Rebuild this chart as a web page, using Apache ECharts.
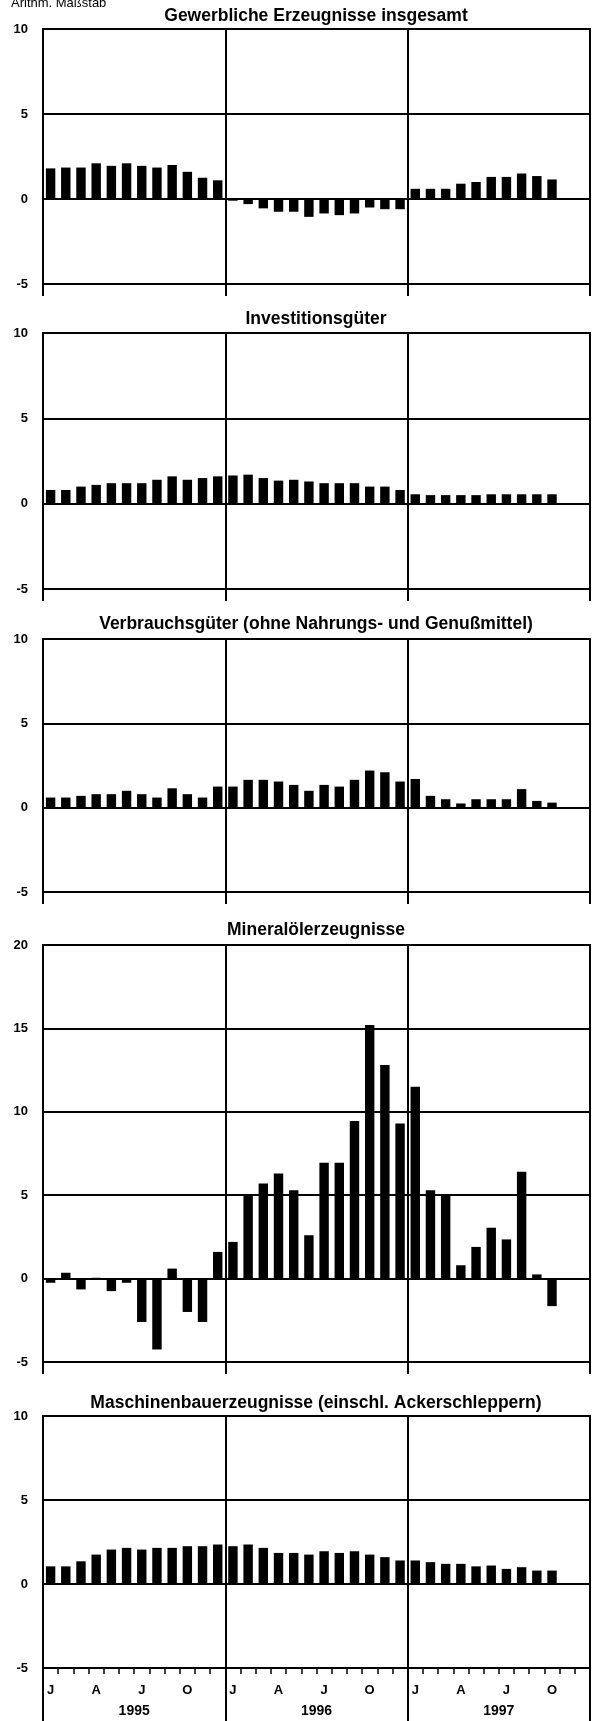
<!DOCTYPE html>
<html>
<head>
<meta charset="utf-8">
<title>Erzeugerpreise gewerblicher Produkte</title>
<script src="https://cdn.jsdelivr.net/npm/echarts@6/dist/echarts.min.js"></script>
<style>
  html, body { margin: 0; padding: 0; background: #fff; }
  #chart { width: 593px; height: 1721px; }
</style>
</head>
<body>
<div id="chart"></div>
<script>
// Monatsbuchstaben und Jahre der Zeitachse
const months = ['J', 'F', 'M', 'A', 'M', 'J', 'J', 'A', 'S', 'O', 'N', 'D'];
const years = ['1995', '1996', '1997'];

// Werte Jan 1995 - Okt 1997
const gesamt = [1.8, 1.85, 1.85, 2.1, 1.95, 2.1, 1.95, 1.85, 2.0, 1.6, 1.25, 1.1,
  -0.1, -0.3, -0.55, -0.75, -0.75, -1.05, -0.85, -0.95, -0.85, -0.5, -0.6, -0.6,
  0.6, 0.6, 0.6, 0.9, 1.0, 1.3, 1.3, 1.5, 1.35, 1.15];
const invest = [0.8, 0.8, 1.0, 1.1, 1.2, 1.2, 1.2, 1.4, 1.6, 1.4, 1.5, 1.6,
  1.65, 1.7, 1.5, 1.35, 1.4, 1.3, 1.2, 1.2, 1.2, 1.0, 1.0, 0.8,
  0.55, 0.5, 0.5, 0.5, 0.5, 0.55, 0.55, 0.55, 0.55, 0.55];
const verbrauch = [0.6, 0.6, 0.7, 0.8, 0.8, 1.0, 0.8, 0.6, 1.15, 0.8, 0.6, 1.25,
  1.25, 1.65, 1.65, 1.55, 1.35, 1.0, 1.35, 1.25, 1.65, 2.2, 2.1, 1.55,
  1.7, 0.7, 0.5, 0.25, 0.5, 0.5, 0.5, 1.1, 0.4, 0.3];
const mineraloel = [-0.25, 0.35, -0.65, 0.05, -0.75, -0.25, -2.6, -4.25, 0.6, -2.0, -2.6, 1.6,
  2.2, 4.95, 5.7, 6.3, 5.3, 2.6, 6.95, 6.95, 9.45, 15.2, 12.8, 9.3,
  11.5, 5.3, 5.0, 0.8, 1.9, 3.05, 2.35, 6.4, 0.25, -1.65];
const maschinen = [1.05, 1.05, 1.35, 1.75, 2.05, 2.15, 2.05, 2.15, 2.15, 2.25, 2.25, 2.35,
  2.25, 2.35, 2.15, 1.85, 1.85, 1.75, 1.95, 1.85, 1.95, 1.75, 1.6, 1.4,
  1.4, 1.3, 1.2, 1.2, 1.05, 1.1, 0.9, 1.0, 0.8, 0.8];

const titles = [
  'Gewerbliche Erzeugnisse insgesamt',
  'Investitionsgüter',
  'Verbrauchsgüter (ohne Nahrungs- und Genußmittel)',
  'Mineralölerzeugnisse',
  'Maschinenbauerzeugnisse (einschl. Ackerschleppern)'
];
const seriesData = [gesamt, invest, verbrauch, mineraloel, maschinen];
const yMax = [10, 10, 10, 20, 10];

// Lage der einzelnen Diagramme
const layout = [
  { top: 29, height: 255, titleY: 16 },
  { top: 333, height: 256, titleY: 319 },
  { top: 639, height: 253, titleY: 624 },
  { top: 945, height: 417, titleY: 930 },
  { top: 1416, height: 252, titleY: 1403 }
];

const categories = [];
years.forEach(y => months.forEach((m, i) => categories.push(y + '-' + (i + 1))));

const font = 'Liberation Sans, Arial, Helvetica, sans-serif';
const black = '#000';

const grid = [], xAxis = [], yAxis = [], series = [], graphic = [];

graphic.push({
  type: 'text', x: 11, y: 3,
  style: { text: 'Arithm. Maßstab', font: '13px ' + font, fill: black, textAlign: 'left', textVerticalAlign: 'middle' }
});

seriesData.forEach((data, i) => {
  const L = layout[i];
  const last = i === seriesData.length - 1;
  grid.push({
    left: 43, right: 3, top: L.top, height: L.height,
    show: true, borderColor: black, borderWidth: 2,
    containLabel: false, outerBoundsMode: 'none'
  });
  // Monatsachse
  xAxis.push({
    type: 'category', gridIndex: i, position: 'bottom', data: categories,
    axisLine: { show: false, onZero: false },
    axisTick: last ? { show: true, interval: 0, length: 6, lineStyle: { color: black, width: 1.5 } } : { show: false },
    axisLabel: last ? {
      show: true,
      interval: (idx) => idx % 3 === 0,
      formatter: (v, idx) => months[idx % 12],
      color: black, fontWeight: 'bold', fontSize: 13, fontFamily: font, margin: 16
    } : { show: false },
    splitLine: { show: true, interval: 11, lineStyle: { color: black, width: 2 } }
  });
  // Jahresachse
  xAxis.push({
    type: 'category', gridIndex: i, position: 'bottom', data: years,
    axisLine: { show: false, onZero: false },
    axisTick: { show: true, interval: 0, length: last ? 55 : 12, lineStyle: { color: black, width: 2 } },
    axisLabel: last ? {
      show: true, interval: 0,
      color: black, fontWeight: 'bold', fontSize: 14, fontFamily: font, margin: 36
    } : { show: false },
    splitLine: { show: false }
  });
  yAxis.push({
    type: 'value', gridIndex: i, min: -5, max: yMax[i], interval: 5,
    axisLine: { show: false },
    axisTick: { show: false },
    axisLabel: { color: black, fontWeight: 'bold', fontSize: 13, fontFamily: font, margin: 15 },
    splitLine: { show: true, lineStyle: { color: black, width: 2 } }
  });
  series.push({
    type: 'bar', xAxisIndex: 2 * i, yAxisIndex: i, data: data,
    barWidth: '62%', itemStyle: { color: black }, silent: true
  });
  graphic.push({
    type: 'text', x: 316, y: L.titleY,
    style: { text: titles[i], font: 'bold 17.5px ' + font, fill: black, textAlign: 'center', textVerticalAlign: 'middle' }
  });
});

const chart = echarts.init(document.getElementById('chart'));
chart.setOption({
  animation: false,
  backgroundColor: '#fff',
  grid: grid,
  xAxis: xAxis,
  yAxis: yAxis,
  series: series,
  graphic: graphic
});
</script>
</body>
</html>
